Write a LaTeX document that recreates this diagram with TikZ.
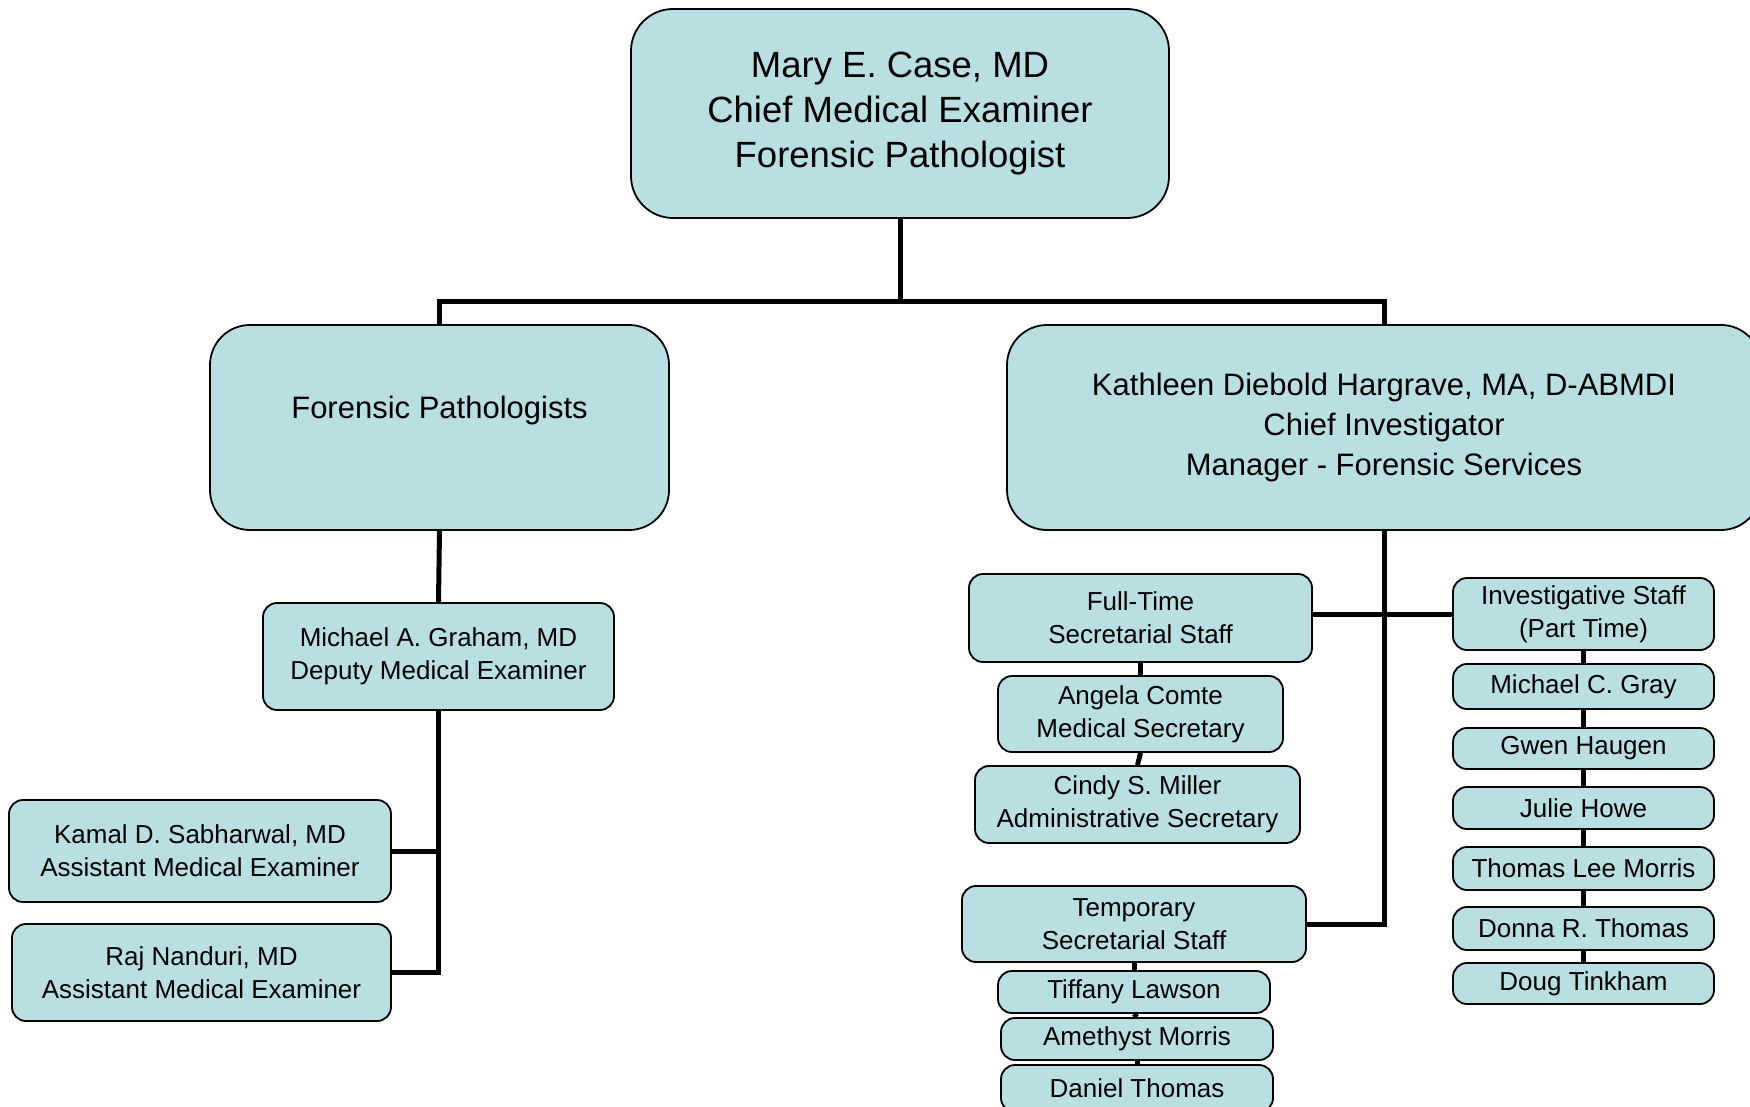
\documentclass[tikz,border=0pt]{standalone}
\usepackage{fontspec}
\setmainfont{Liberation Sans}
\usetikzlibrary{backgrounds}
\definecolor{boxfill}{RGB}{186,223,227}
\tikzset{
  x=1pt, y=-1pt,
  anybox/.style={draw=black, line width=1.8pt, fill=boxfill, align=center, inner sep=0pt, text=black},
  bigbox/.style={anybox, rounded corners=40pt, font=\fontsize{31}{40}\selectfont},
  topbox/.style={anybox, rounded corners=42pt, font=\fontsize{36.5}{45}\selectfont},
  smallbox/.style={anybox, rounded corners=14pt, font=\fontsize{26}{33}\selectfont},
  conn/.style={draw=black, line width=5pt},
}
\begin{document}
\begin{tikzpicture}
\useasboundingbox (0,0) rectangle (1750,1107);
\clip (0,0) rectangle (1750,1107);
% top
\node[topbox, minimum width=538pt, minimum height=209pt] (top) at (900,113.5)
  {Mary E. Case, MD\\Chief Medical Examiner\\Forensic Pathologist};
\node[bigbox, minimum width=459pt, minimum height=205pt] (fp) at (439.5,427.5)
  {Forensic Pathologists\\\mbox{}};
\node[bigbox, minimum width=754pt, minimum height=205pt] (kdh) at (1384,427.5)
  {Kathleen Diebold Hargrave, MA, D-ABMDI\\Chief Investigator\\Manager - Forensic Services};
% left branch
\node[smallbox, minimum width=351pt, minimum height=107pt] (mag) at (438.5,656.5)
  {Michael A. Graham, MD\\Deputy Medical Examiner};
\node[smallbox, minimum width=382pt, minimum height=102pt] (kam) at (200,851)
  {Kamal D. Sabharwal, MD\\Assistant Medical Examiner};
\node[smallbox, minimum width=379pt, minimum height=97pt] (raj) at (201.5,972.5)
  {Raj Nanduri, MD\\Assistant Medical Examiner};
% secretarial
\node[smallbox, minimum width=343pt, minimum height=88pt] (ft) at (1140.5,618)
  {Full-Time\\Secretarial Staff};
\node[smallbox, minimum width=285pt, minimum height=76pt] (ang) at (1140.5,714)
  {Angela Comte\\Medical Secretary};
\node[smallbox, minimum width=325pt, minimum height=77pt] (cin) at (1137.5,804.5)
  {Cindy S. Miller\\Administrative Secretary};
\node[smallbox, minimum width=344pt, minimum height=76pt] (tmp) at (1134,924)
  {Temporary\\Secretarial Staff};
\node[smallbox, minimum width=272pt, minimum height=42pt] (tif) at (1134,992)
  {Tiffany Lawson};
\node[smallbox, minimum width=272pt, minimum height=42pt] (ame) at (1137,1039)
  {Amethyst Morris};
\node[smallbox, minimum width=272pt, minimum height=47pt] (dan) at (1137,1088.5)
  {Daniel Thomas};
% investigative
\node[smallbox, minimum width=261pt, minimum height=72pt] (inv) at (1583.5,614)
  {Investigative Staff\\(Part Time)};
\node[smallbox, minimum width=261pt, minimum height=45pt] (gray) at (1583.5,686.5)
  {Michael C. Gray};
\node[smallbox, minimum width=261pt, minimum height=41pt] (gwen) at (1583.5,748.5)
  {Gwen Haugen};
\node[smallbox, minimum width=261pt, minimum height=42pt] (jul) at (1583.5,808)
  {Julie Howe};
\node[smallbox, minimum width=261pt, minimum height=43pt] (tlm) at (1583.5,868.5)
  {Thomas Lee Morris};
\node[smallbox, minimum width=261pt, minimum height=43pt] (don) at (1583.5,928.5)
  {Donna R. Thomas};
\node[smallbox, minimum width=261pt, minimum height=41pt] (dou) at (1583.5,983.5)
  {Doug Tinkham};
\coordinate (bus) at (900,301);
\begin{scope}[on background layer]
  \draw[conn] (top.south) -- (bus);
  \draw[conn] (fp.north) |- (bus) -| (kdh.north);
  \draw[conn] (fp.south) -- (mag.north);
  \draw[conn] (mag.south) |- (raj.east);
  \draw[conn] (kam.east) -- (kam.east -| mag.south);
  \draw[conn] (kdh.south) |- (tmp.east);
  \draw[conn] (inv.west -| ft.east) -- (inv.west);
  \draw[conn] (ft.south) -- (ang.north);
  \draw[conn] (ang.south) -- (cin.north);
  \draw[conn] (tmp.south) -- (tif.north);
  \draw[conn] (tif.south) -- (ame.north);
  \draw[conn] (ame.south) -- (dan.north);
  \draw[conn] (inv.south) -- (gray.north);
  \draw[conn] (gray.south) -- (gwen.north);
  \draw[conn] (gwen.south) -- (jul.north);
  \draw[conn] (jul.south) -- (tlm.north);
  \draw[conn] (tlm.south) -- (don.north);
  \draw[conn] (don.south) -- (dou.north);
\end{scope}
\end{tikzpicture}
\end{document}
